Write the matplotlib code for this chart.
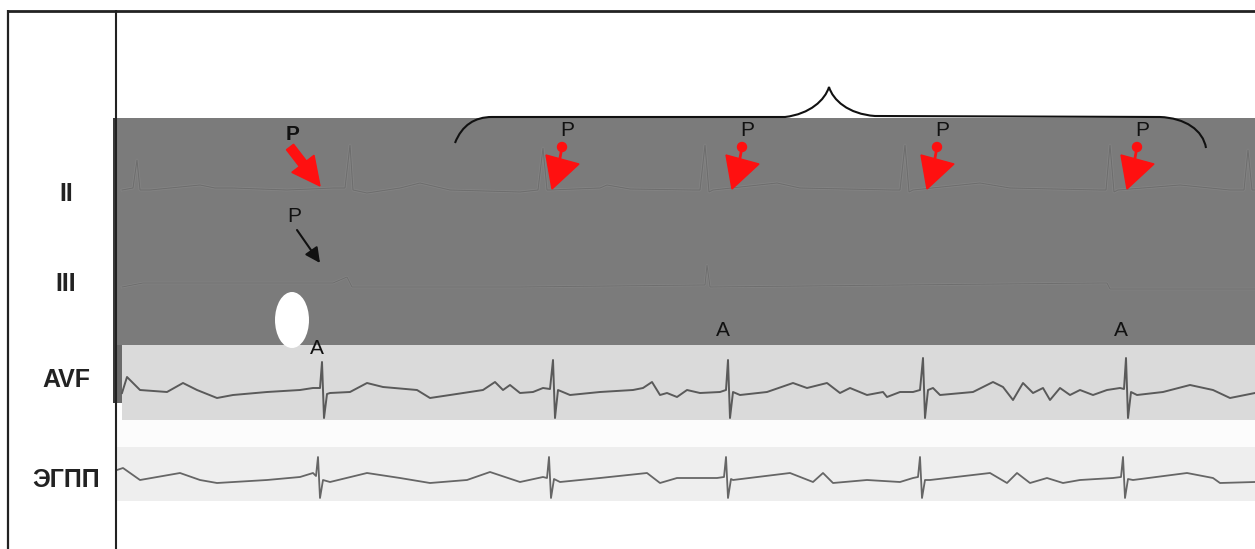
import matplotlib
matplotlib.use("Agg")
import matplotlib.pyplot as plt
from matplotlib.patches import Rectangle, Ellipse, Polygon, FancyArrow, Circle, PathPatch
from matplotlib.path import Path

# ---------------- data (time in px columns, amplitude in px, up = positive) ----------------
lead_labels = ["II", "III", "AVF", "ЭГПП"]

ii_t   = [122, 133, 137, 140, 150, 200, 215, 233, 287, 333, 345, 350, 353, 367, 400, 420, 450,
          520, 538, 543, 547, 550, 600, 607, 630, 693, 700, 705, 709, 713, 777, 800, 893, 900,
          905, 909, 913, 980, 1010, 1100, 1106, 1110, 1114, 1118, 1180, 1230, 1244, 1248, 1252, 1255]
ii_amp = [0, 2, 30, 0, 0, 5, 2, 2, 0, 2, 2, 45, 0, -3, 2, 7, 0,
          -2, 0, 42, 0, 0, 2, 5, 1, 0, 0, 45, -2, 0, 7, 2, 0, 0,
          45, -2, 0, 7, 2, 0, 0, 45, -2, 0, 5, 0, 0, 40, 0, 0]

iii_t   = [122, 143, 333, 347, 352, 367, 520, 700, 705, 707, 710, 900, 1100, 1107, 1110, 1255]
iii_amp = [0, 4, 4, 10, 0, 0, 0, 2, 2, 22, 0, 2, 4, 4, -2, -2]

avf_t = [122, 127, 140, 167, 183, 197, 217, 233, 267, 300, 313, 320, 322, 324, 327, 330, 350,
         367, 383, 417, 430, 450, 483, 495, 503, 510, 520, 533, 543, 550, 553, 555, 558, 570,
         600, 633, 643, 652, 660, 667, 677, 687, 700, 720, 726, 728, 730, 733, 740, 767, 793,
         807, 827, 840, 850, 867, 883, 887, 900, 913, 920, 923, 925, 928, 933, 940, 973, 993,
         1003, 1013, 1023, 1033, 1043, 1050, 1060, 1070, 1080, 1093, 1107, 1120, 1124, 1126,
         1128, 1131, 1137, 1163, 1190, 1213, 1230, 1255]
avf_amp = [-1, 15, 2, 0, 9, 2, -6, -3, 0, 2, 4, 4, 30, -26, -2, -1, 0,
           9, 5, 2, -6, -3, 2, 10, 2, 7, -1, 0, 4, 3, 32, -26, 2, -3,
           0, 2, 4, 10, -3, -1, -5, 2, -1, 0, 2, 32, -26, 0, -3, 0, 9,
           4, 9, -1, 4, -3, 0, -5, 0, 0, 2, 34, -26, 2, 4, -3, 0, 10,
           5, -8, 9, -1, 4, -8, 4, -3, 2, -3, 2, 4, 3, 34,
           -26, 0, -3, 0, 7, 2, -6, -1]

egpp_t = [117, 123, 140, 180, 200, 217, 267, 300, 313, 316, 318, 320, 323, 330, 367, 400, 430,
          467, 490, 520, 543, 547, 549, 551, 554, 560, 600, 647, 660, 677, 717, 724, 726, 728,
          731, 733, 790, 813, 823, 833, 867, 900, 913, 918, 920, 922, 925, 930, 990, 1007, 1017,
          1030, 1047, 1063, 1080, 1113, 1121, 1123, 1125, 1128, 1133, 1187, 1213, 1220, 1255]
egpp_amp = [8, 10, -2, 5, -2, -5, -2, 1, 5, 2, 21, -20, -2, -4, 5, 0, -5,
            -2, 6, -4, 1, 0, 21, -20, -1, -4, 0, 5, -5, 0, 0, 1, 21, -20,
            -1, -2, 5, -4, 5, -5, -2, -4, 0, 1, 21, -20, -2, -2, 5, -5, 5,
            -5, 0, -5, -2, 0, 1, 21, -20, -1, -2, 5, 0, -5, -4]

red_p_x = [562, 742, 937, 1137]      # P-wave markers (red arrows) on lead II
a_label_x = [317, 723, 1121]         # atrial "A" marks

# ---------------- layout ----------------
W, H = 1255, 549
fig = plt.figure(figsize=(W / 100, H / 100), dpi=100)
ax = fig.add_axes([0, 0, 1, 1])
ax.set_xlim(0, W)
ax.set_ylim(H, 0)
ax.axis("off")
plt.rcParams["font.family"] = ["Liberation Sans", "DejaVu Sans"]

base = {"II": 190, "III": 287, "AVF": 392, "ЭГПП": 478}

# backgrounds
ax.add_patch(Rectangle((114, 118), W - 114, 227, facecolor="#7b7b7b", edgecolor="none", zorder=1))
ax.add_patch(Rectangle((113, 345), 9, 58, facecolor="#6a6a6a", edgecolor="none", zorder=1))
ax.add_patch(Rectangle((122, 345), W - 122, 75, facecolor="#dadada", edgecolor="none", zorder=1))
ax.add_patch(Rectangle((117, 420), W - 117, 27, facecolor="#fcfcfc", edgecolor="none", zorder=1))
ax.add_patch(Rectangle((117, 447), W - 117, 54, facecolor="#eeeeee", edgecolor="none", zorder=1))
ax.add_patch(Rectangle((113, 118), 4, 285, facecolor="#3a3a3a", edgecolor="none", zorder=2))

# borders
ax.plot([8, 8], [10, H], color="#222222", lw=1.6, zorder=5, solid_capstyle="butt")
ax.plot([8, W], [10.5, 10.5], color="#222222", lw=2.0, zorder=5, solid_capstyle="butt")
ax.plot([116, 116], [10, H], color="#222222", lw=1.5, zorder=5, solid_capstyle="butt")

# traces
def trace(t, amp, lead, **kw):
    ax.plot(t, [base[lead] - a for a in amp], **kw)

trace(ii_t, ii_amp, "II", color="#848484", lw=2.0, zorder=3, solid_joinstyle="round")
trace(ii_t, ii_amp, "II", color="#6e6e6e", lw=0.8, zorder=3, solid_joinstyle="round")
trace(iii_t, iii_amp, "III", color="#848484", lw=1.8, zorder=3)
trace(iii_t, iii_amp, "III", color="#6e6e6e", lw=0.7, zorder=3)
trace(avf_t, avf_amp, "AVF", color="#5a5a5a", lw=1.4, zorder=3, solid_joinstyle="round")
trace(egpp_t, egpp_amp, "ЭГПП", color="#666666", lw=1.3, zorder=3, solid_joinstyle="round")

# lead labels
for lab, y in zip(lead_labels, [194, 284, 380, 480]):
    ax.text(66, y, lab, ha="center", va="center", fontsize=18, fontweight="bold",
            color="#222222", zorder=6)

# brace
verts = [(455, 143), (462, 125), (475, 117), (492, 117),
         (785, 117),
         (810, 114), (825, 100), (829, 87),
         (833, 100), (848, 114), (875, 116),
         (1160, 117),
         (1185, 118), (1203, 130), (1206, 148)]
codes = [Path.MOVETO, Path.CURVE4, Path.CURVE4, Path.CURVE4,
         Path.LINETO,
         Path.CURVE4, Path.CURVE4, Path.CURVE4,
         Path.CURVE4, Path.CURVE4, Path.CURVE4,
         Path.LINETO,
         Path.CURVE4, Path.CURVE4, Path.CURVE4]
ax.add_patch(PathPatch(Path(verts, codes), facecolor="none", edgecolor="#111111", lw=1.5, zorder=7))

# first (bold) P with big red arrow
ax.text(293, 135, "P", ha="center", va="center", fontsize=15, fontweight="bold", color="#111111", zorder=7)
ax.add_patch(FancyArrow(290, 147, 30, 39, width=9, head_width=28, head_length=28,
                        length_includes_head=True, color="#ff1010", zorder=7))

# red P markers
for x0 in red_p_x:
    ax.text(x0 + 5, 131, "P", ha="center", va="center", fontsize=15, color="#111111", zorder=7)
    ax.plot([x0, x0 - 2], [147, 158], color="#ff1010", lw=2, zorder=7)
    ax.add_patch(Circle((x0, 147), 4.5, color="#ff1010", zorder=7))
    ax.add_patch(Polygon([(x0 - 16, 155), (x0 + 17, 164), (x0 - 10, 189)], closed=True,
                         color="#ff1010", zorder=7))

# second P with black arrow (lead III)
ax.text(294, 217, "P", ha="center", va="center", fontsize=15, color="#111111", zorder=7)
ax.annotate("", xy=(320, 263), xytext=(297, 230),
            arrowprops=dict(arrowstyle="-|>,head_width=0.45,head_length=0.9", color="#111111",
                            lw=1.5, shrinkA=0, shrinkB=0), zorder=7)

# white ellipse
ax.add_patch(Ellipse((292, 320), 34, 56, facecolor="white", edgecolor="none", zorder=6))

# A labels
for i, x in enumerate(a_label_x):
    y = 348 if i == 0 else 331
    ax.text(x, y, "A", ha="center", va="center", fontsize=15, color="#111111", zorder=7)

fig.savefig("out.png", dpi=100)
